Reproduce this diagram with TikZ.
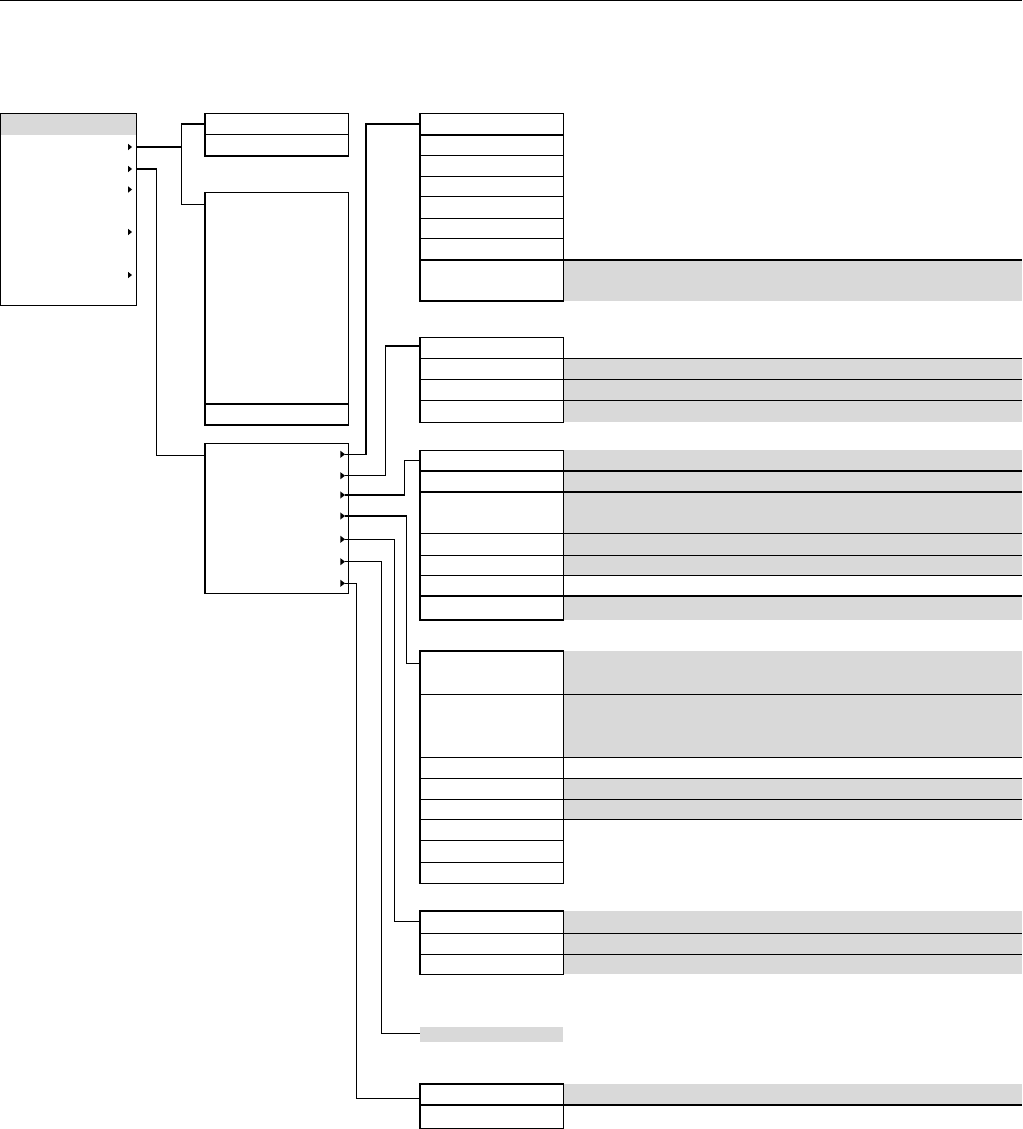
\documentclass[tikz,border=0pt]{standalone}
\definecolor{cellgrey}{RGB}{217,217,217}
\begin{document}
\begin{tikzpicture}[x=1pt,y=-1pt,
  box/.style={draw=black, line width=1.3pt, inner sep=0pt, outer sep=0pt, anchor=north west},
  bar/.style={fill=cellgrey, inner sep=0pt, outer sep=0pt, anchor=north west},
  wire/.style={draw=black, line width=1.3pt},
  rule/.style={draw=black, line width=1.3pt},
  tipmark/.style={fill=black}]
\useasboundingbox (0,0) rectangle (1022,1129);

% top rule
\draw[rule] (0,0.7) -- (1022,0.7);

% grey cells right of the tables
\fill[cellgrey] (563.3,260) rectangle (1022,300.5);
\fill[cellgrey] (563.3,358.3) rectangle (1022,421.7);
\fill[cellgrey] (563.3,450.3) rectangle (1022,575.3);
\fill[cellgrey] (563.3,596) rectangle (1022,620);
\fill[cellgrey] (563.3,651) rectangle (1022,757.3);
\fill[cellgrey] (563.3,778.3) rectangle (1022,819.3);
\fill[cellgrey] (563.3,911) rectangle (1022,974.3);
\fill[cellgrey] (563.3,1084) rectangle (1022,1105);
% menu header
\fill[cellgrey] (0.65,113.3) rectangle (136.65,135.5);

% boxes
\node[box, minimum width=136pt, minimum height=192.3pt] (M) at (0.65,113.3) {};
\node[box, minimum width=143.3pt, minimum height=42.7pt] (A) at (205,113.3) {};
\node[box, minimum width=143.3pt, minimum height=232.7pt] (B) at (205,192.3) {};
\node[box, minimum width=143.5pt, minimum height=150pt] (C) at (205,443.3) {};
\node[box, minimum width=143.3pt, minimum height=187.7pt] (D) at (420,113.3) {};
\node[box, minimum width=143.3pt, minimum height=84.8pt] (E) at (420,337.5) {};
\node[box, minimum width=143.3pt, minimum height=169.7pt] (F) at (420,450.3) {};
\node[box, minimum width=143.3pt, minimum height=232.3pt] (G) at (420,651) {};
\node[box, minimum width=143.3pt, minimum height=63.3pt] (H) at (420,911) {};
\node[bar, minimum width=143.3pt, minimum height=15.3pt] (I) at (420,1026.7) {};
\node[box, minimum width=143.3pt, minimum height=44.3pt] (J) at (420,1084) {};

% row separators inside boxes
\draw[rule] (205,134.5) -- (348.3,134.5);
\draw[rule] (205,404) -- (348.3,404);
\foreach \y in {135,155.3,176.3,196.7,218.3,238.3} \draw[rule] (420,\y) -- (563.3,\y);
\foreach \y in {840.3,862.3} \draw[rule] (420,\y) -- (563.3,\y);
% row separators running across the grey column
\foreach \y in {260,358.3,379.3,400.3,471,492,533.3,555.3,575.3,596,694.3,757.3,778.3,799.3,819.3,933.3,954.3,1105}
  \draw[rule] (420,\y) -- (1022,\y);

% arrow marks in the menu
\foreach \y in {147,169,189.5,232,275}
  \fill[tipmark] (128,\y-3.2) -- (132,\y) -- (128,\y+3.2) -- cycle;
% arrow marks in box C
\foreach \y in {454.3,475.7,495,516,539.3,561.7,583.3}
  \fill[tipmark] (340.3,\y-3.6) -- (345,\y) -- (340.3,\y+3.6) -- cycle;

% connector end points
\coordinate (m1) at (136.65,147);
\coordinate (m2) at (136.65,169);
\coordinate (Ain) at (205,124);
\coordinate (Bin) at (205,204.3);
\coordinate (Cin) at (205,455.7);
\coordinate (c1) at (345,454.3);
\coordinate (c2) at (345,475.7);
\coordinate (c3) at (345,495);
\coordinate (c4) at (345,516);
\coordinate (c5) at (345,539.3);
\coordinate (c6) at (345,561.7);
\coordinate (c7) at (345,583.3);
\coordinate (Din) at (420,124);
\coordinate (Ein) at (420,346);
\coordinate (Fin) at (420,460.3);
\coordinate (Gin) at (420,663.3);
\coordinate (Hin) at (420,921.7);
\coordinate (Iin) at (420,1033.3);
\coordinate (Jin) at (420,1098.3);

% connectors
\draw[wire] (m1) -- ++(45,0);
\draw[wire] (Ain) -- ++(-23.3,0) |- (Bin);
\draw[wire] (m2) -- ++(20,0) |- (Cin);
\draw[wire] (c1) -- ++(21,0) |- (Din);
\draw[wire] (c2) -- ++(40.3,0) |- (Ein);
\draw[wire] (c3) -- ++(59.3,0) |- (Fin);
\draw[wire] (c4) -- ++(61.5,0) |- (Gin);
\draw[wire] (c5) -- ++(49.3,0) |- (Hin);
\draw[wire] (c6) -- ++(36.3,0) |- (Iin);
\draw[wire] (c7) -- ++(11.3,0) |- (Jin);
\end{tikzpicture}
\end{document}
